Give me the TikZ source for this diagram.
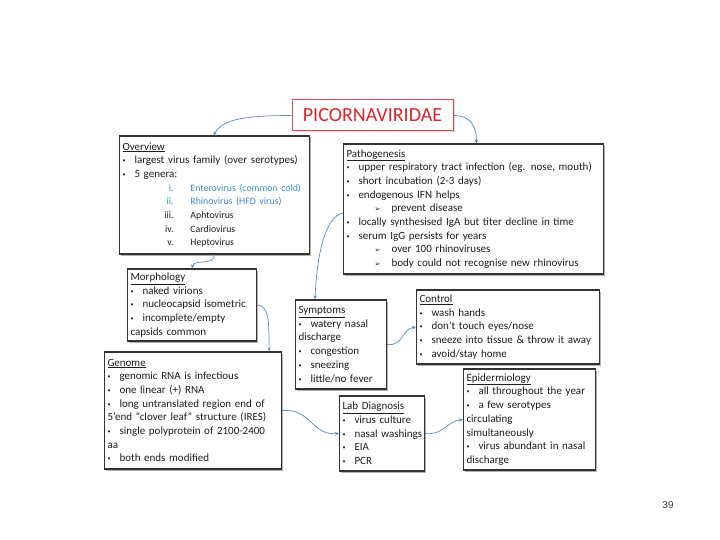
\documentclass[tikz,border=0pt]{standalone}
\usepackage{fontspec}
\setmainfont{Carlito}
\newfontfamily\arrfont{DejaVu Sans}
\newfontfamily\numfont{Liberation Sans}
\usetikzlibrary{arrows.meta,shadows}
\definecolor{boxline}{HTML}{333333}
\definecolor{bodytxt}{HTML}{1E1E1E}
\definecolor{linkblue}{HTML}{5A8DC0}
\definecolor{genblue}{HTML}{3D8FCB}
\definecolor{titlered}{HTML}{D9252C}
\definecolor{titleline}{HTML}{DC4A4F}
\newcommand{\bl}{\makebox[12pt][l]{\raisebox{1pt}{\fontsize{6}{6}\selectfont\textbullet}}}
\newcommand{\sbl}{\hspace*{28pt}\makebox[17pt][l]{\arrfont\fontsize{7}{7}\selectfont ➢}}
\newcommand{\rn}[1]{\fontsize{9.8}{13.7}\selectfont\hspace*{31pt}\makebox[20pt][r]{#1}\hspace*{17pt}}
\tikzset{
	box/.style={draw=boxline, line width=1.2pt, fill=white, align=left, inner sep=3pt, text=bodytxt,
		font=\fontsize{11}{13.7}\selectfont,
		drop shadow={shadow xshift=1.5pt, shadow yshift=-1.5pt, fill=black!50, opacity=0.6}},
	titlebox/.style={draw=titleline, line width=1pt, fill=white, text=titlered, font=\fontsize{20}{22}\selectfont,
		drop shadow={shadow xshift=1.5pt, shadow yshift=-1.5pt, fill=black!25, opacity=0.6}},
	conn/.style={draw=linkblue, line width=0.7pt, -{Stealth[length=4pt,width=3.5pt]}}
}
\begin{document}
\begin{tikzpicture}[x=1pt,y=-1pt]
		\useasboundingbox[fill=white] (0,0) rectangle (720,540);
		\node[titlebox, minimum width=161pt, minimum height=31pt] (title) at (372.5,115.5) {PICORNAVIRIDAE};
		\node[box, text width=184pt, minimum height=118pt] (overview) at (214.5,195) {\underline{Overview}\\
			\bl largest virus family (over serotypes)\\
			\bl 5 genera:\\
			\mbox{\color{genblue}\rn{i.}Enterovirus (common cold)}\\
			\mbox{\color{genblue}\rn{ii.}Rhinovirus (HFD virus)}\\
			\mbox{\rn{iii.}Aphtovirus}\\
			\mbox{\rn{iv.}Cardiovirus}\\
			\mbox{\rn{v.}Heptovirus}};
		\node[box, text width=254pt, minimum height=130pt] (pathog) at (473.5,209) {\underline{Pathogenesis}\\
			\bl upper respiratory tract infection (eg. nose, mouth)\\
			\bl short incubation (2-3 days)\\
			\bl endogenous IFN helps\\
			\sbl prevent disease\\
			\bl locally synthesised IgA but titer decline in time\\
			\bl serum IgG persists for years\\
			\sbl over 100 rhinoviruses\\
			\sbl body could not recognise new rhinovirus};
		\node[box, text width=123pt, minimum height=72pt] (morph) at (192,305) {\underline{Morphology}\\
			\bl naked virions\\
			\bl nucleocapsid isometric\\
			\bl incomplete/empty\\
			capsids common};
		\node[box, text width=85pt, minimum height=89pt] (symp) at (341,344.5) {\underline{Symptoms}\\
			\bl watery nasal\\
			discharge\\
			\bl congestion\\
			\bl sneezing\\
			\bl little/no fever};
		\node[box, text width=177pt, minimum height=74pt] (control) at (508,327) {\underline{Control}\\
			\bl wash hands\\
			\bl don't touch eyes/nose\\
			\bl sneeze into tissue \& throw it away\\
			\bl avoid/stay home};
		\node[box, text width=171pt, minimum height=117pt] (genome) at (193,410.5) {\underline{Genome}\\
			\bl genomic RNA is infectious\\
			\bl one linear (+) RNA\\
			\bl long untranslated region end of\\
			5'end ``clover leaf'' structure (IRES)\\
			\bl single polyprotein of 2100-2400\\
			aa\\
			\bl both ends modified};
		\node[box, text width=79pt, minimum height=75pt] (lab) at (382,433.5) {\mbox{\underline{Lab Diagnosis}}\\
			\mbox{\bl virus culture}\\
			\mbox{\bl nasal washings}\\
			\bl EIA\\
			\bl PCR};
		\node[box, text width=126pt, minimum height=101pt] (epid) at (529.5,419.5) {\underline{Epidermiology}\\
			\bl all throughout the year\\
			\bl a few serotypes\\
			circulating\\
			simultaneously\\
			\bl virus abundant in nasal\\
			discharge};
		\node[text=black!75, font=\numfont\fontsize{10}{12}\selectfont] (pagenum) at (668,505) {39};
		\draw[conn] (title.west) .. controls +(-55,0) and +(8,-14) .. ([xshift=-1pt]overview.north);
		\draw[conn] (title.east) .. controls +(18,0) and +(0,-16) .. ([xshift=3pt]pathog.north);
		\draw[conn] (overview.south) .. controls +(0,12) and +(2,-10) .. (morph.north);
		\draw[conn] ([yshift=-4pt]pathog.west) .. controls +(-18,4) and +(2,-45) .. ([xshift=-26pt]symp.north);
		\draw[conn] (morph.east) .. controls +(12,0) and +(0,-28) .. ([xshift=-13pt]genome.north east);
		\draw[conn] (symp.east) .. controls +(16,2) and +(-14,2) .. (control.west);
		\draw[conn] (genome.east) .. controls +(30,-2) and +(-28,2) .. (lab.west);
		\draw[conn] (lab.east) .. controls +(18,2) and +(-16,2) .. (epid.west);
\end{tikzpicture}
\end{document}
